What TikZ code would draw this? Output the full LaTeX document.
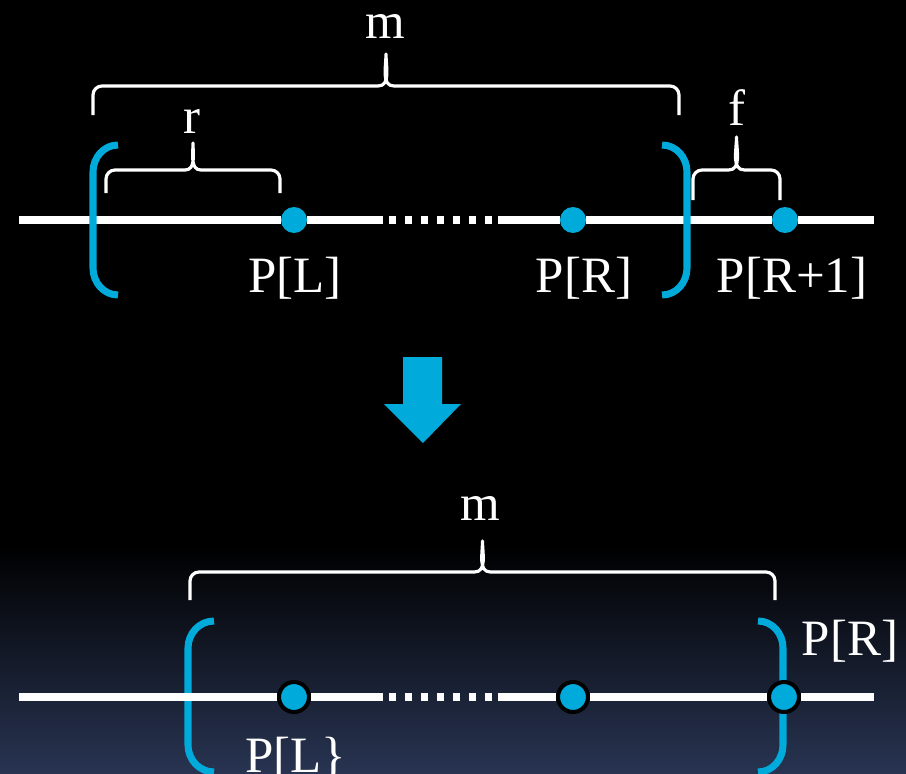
\documentclass[tikz,border=0pt]{standalone}
\usepackage{fontspec}
\setmainfont{Liberation Serif}
\usepackage{tikz}
\definecolor{ptblue}{RGB}{0,170,218}
\definecolor{bgblue}{RGB}{40,52,82}
% brace opening downwards: x left, x right, y of ends, y of bar, y of tip
\newcommand{\upbrace}[5]{%
  \pgfmathsetmacro\bmid{0.5*#1+0.5*#2}%
  \draw[bracelbl] (#1,#3) -- (#1,#4+9) to[out=90,in=180] (#1+9,#4)
    -- (\bmid-8,#4) to[out=0,in=-90] (\bmid,#5)
    to[out=-90,in=180] (\bmid+8,#4) -- (#2-9,#4)
    to[out=0,in=90] (#2,#4+9) -- (#2,#3);}

\begin{document}
\begin{tikzpicture}[x=0.02cm,y=-0.02cm,
  axis/.style={white,line width=4.5pt},
  gaps/.style={white,line width=4pt,dash pattern=on 0.14cm off 0.18cm},
  pt/.style={circle,fill=ptblue,inner sep=0pt,minimum size=0.52cm},
  ptring/.style={circle,fill=ptblue,draw=black,line width=2.3pt,inner sep=0pt,minimum size=0.6cm},
  bracket/.style={ptblue,line width=4pt},
  lbl/.style={white,anchor=base,inner sep=0pt,font=\fontsize{29}{32}\selectfont},
  bracelbl/.style={white,line width=1.8pt,line join=round},
]
\useasboundingbox (0,0) rectangle (906,774);
\fill[black] (0,0) rectangle (906,774);
\shade[top color=black,bottom color=bgblue] (0,545) rectangle (906,774);

% top line
\coordinate (ta) at (19,220);
\coordinate (tb) at (874,220);
\coordinate (td1) at (383,220);
\coordinate (td2) at (389,220);
\coordinate (td3) at (498,220);
\node[pt] (tL) at (294,220) {};
\node[pt] (tR) at (573,220) {};
\node[pt] (tR1) at (785,220) {};
\draw[axis] (ta) -- (tL);
\draw[axis] (tL) -- (td1);
\draw[gaps] (td2) -- (td3);
\draw[axis] (td3) -- (tR);
\draw[axis] (tR) -- (tR1);
\draw[axis] (tR1) -- (tb);

\draw[bracket] (118,145) to[out=180,in=90] (93,172) -- (93,268) to[out=-90,in=180] (118,295);
\draw[bracket] (662,145) to[out=0,in=90] (687,172) -- (687,268) to[out=-90,in=0] (662,295);

\upbrace{93}{679}{115}{86}{54}
\upbrace{106}{280}{193}{170}{143}
\upbrace{693}{780}{200}{170}{137}
\node[lbl] (m1) at (385,38) {m};
\node[lbl] (r) at (192,133) {r};
\node[lbl] (f) at (737,125) {f};

\node[lbl] (lL) at (295,292) {P[L]};
\node[lbl] (lR) at (584,292) {P[R]};
\node[lbl] (lR1) at (792,292) {P[R+1]};

% arrow
\fill[ptblue] (403,357) -- (442,357) -- (442,404) -- (461,404) -- (423,443)
  -- (384,404) -- (403,404) -- cycle;

% bottom line
\coordinate (ba) at (19,697);
\coordinate (bb) at (874,697);
\coordinate (bd1) at (383,697);
\coordinate (bd2) at (389,697);
\coordinate (bd3) at (498,697);
\draw[bracket] (214,621) to[out=180,in=90] (188,648) -- (188,745) to[out=-90,in=180] (214,772);
\draw[bracket] (758,621) to[out=0,in=90] (783,648) -- (783,745) to[out=-90,in=0] (758,772);
\node[ptring] (bL) at (294,697) {};
\node[ptring] (bM) at (573,697) {};
\node[ptring] (bR) at (784,697) {};
\draw[axis] (ba) -- (bL);
\draw[axis] (bL) -- (bd1);
\draw[gaps] (bd2) -- (bd3);
\draw[axis] (bd3) -- (bM);
\draw[axis] (bM) -- (bR);
\draw[axis] (bR) -- (bb);

\upbrace{190}{775}{600}{572}{541}
\node[lbl] (m2) at (480,520) {m};
\node[lbl] (bRl) at (850,655) {P[R]};
\node[lbl] (bLl) at (296,772) {P[L\}};
\end{tikzpicture}
\end{document}
